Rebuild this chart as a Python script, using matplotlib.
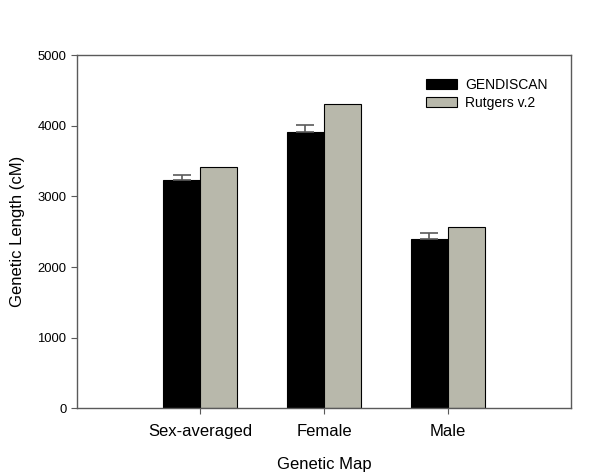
import numpy as np
import matplotlib
matplotlib.use('Agg')
import matplotlib.pyplot as plt

plt.rcParams['font.family'] = ['Liberation Sans', 'DejaVu Sans']

maps = ['Sex-averaged', 'Female', 'Male']
gendiscan = [3240, 3910, 2400]
gendiscan_err = [65, 100, 80]
rutgers = [3420, 4310, 2570]

axis_col = '#5a5a5a'
grey = '#b8b8ab'

fig = plt.figure(figsize=(6, 4.76), dpi=100)
ax = fig.add_axes([0.128, 0.142, 0.824, 0.742])

x = np.arange(1, len(maps) + 1)
w = 0.3
ax.bar(x - w / 2, gendiscan, w, color='black', edgecolor='black', linewidth=0.8,
       label='GENDISCAN')
ax.bar(x + w / 2, rutgers, w, color=grey, edgecolor='black', linewidth=0.8,
       label='Rutgers v.2')
ax.errorbar(x - w / 2, gendiscan, yerr=[np.zeros(3), gendiscan_err], fmt='none',
            ecolor=axis_col, elinewidth=1.2, capsize=6.5, capthick=1.2)

ax.set_xlim(0, 4)
ax.set_ylim(0, 5000)
ax.set_xticks(x)
ax.set_xticklabels(maps, fontsize=12)
ax.set_yticks(range(0, 5001, 1000))
ax.tick_params(axis='y', labelsize=9.4, colors=axis_col, labelcolor='black', length=4)
ax.tick_params(axis='x', colors=axis_col, labelcolor='black', length=4, pad=7)
for s in ax.spines.values():
    s.set_color(axis_col)
    s.set_linewidth(1.0)

ax.set_xlabel('Genetic Map', fontsize=12, labelpad=13)
ax.set_ylabel('Genetic Length (cM)', fontsize=12, labelpad=9)

ax.legend(loc='upper left', bbox_to_anchor=(0.706, 0.935), frameon=False,
          borderpad=0, borderaxespad=0,
          fontsize=10, handlelength=2.25, handleheight=0.75, labelspacing=0.25,
          handletextpad=0.6)

fig.savefig('out.png', dpi=100)
